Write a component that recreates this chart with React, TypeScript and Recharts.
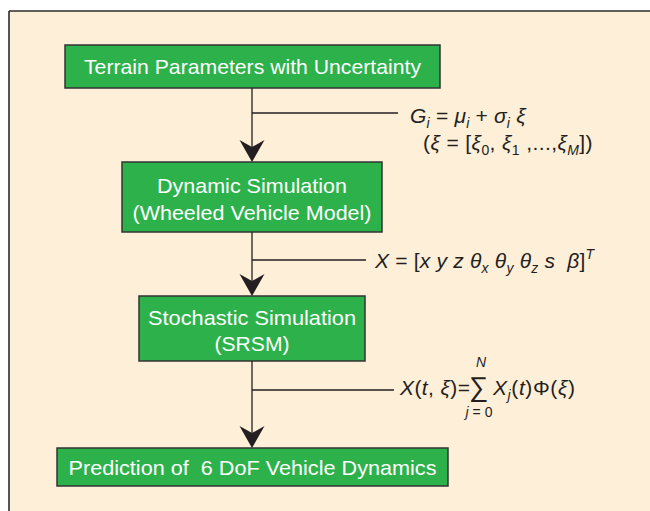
import React from "react";
import {
  ScatterChart,
  Scatter,
  XAxis,
  YAxis,
  ReferenceArea,
  ReferenceLine,
} from "recharts";

// ---------- content ----------
const boxLabels: string[][] = [
  ["Terrain Parameters with Uncertainty"],
  ["Dynamic Simulation", "(Wheeled Vehicle Model)"],
  ["Stochastic Simulation", "(SRSM)"],
  ["Prediction of  6 DoF Vehicle Dynamics"],
];

type Tok = [string, string];
// kinds: i = italic, u = upright, sub = italic subscript, subu = upright subscript, sup = italic superscript, big = large upright, small = small italic
const formula1a: Tok[] = [
  ["G", "i"], ["i", "sub"], [" = ", "u"], ["μ", "i"], ["i", "sub"], [" + ", "u"], ["σ", "i"], ["i", "sub"], [" ξ", "i"],
];
const formula1b: Tok[] = [
  ["(", "u"], ["ξ", "i"], [" = [", "u"], ["ξ", "i"], ["0", "subu"], [", ", "u"], ["ξ", "i"], ["1", "subu"], [" ,...,", "u"], ["ξ", "i"], ["M", "sub"], ["])", "u"],
];
const formula2: Tok[] = [
  ["X", "i"], [" = [", "u"], ["x y z θ", "i"], ["x", "sub"], [" θ", "i"], ["y", "sub"], [" θ", "i"], ["z", "sub"], [" s  β", "i"], ["]", "u"], ["T", "sup"],
];
const formula3a: Tok[] = [["X", "i"], ["(", "u"], ["t", "i"], [", ", "u"], ["ξ", "i"], [")=", "u"]];
const formula3sum: Tok[] = [["∑", "big"]];
const formula3top: Tok[] = [["N", "small"]];
const formula3bot: Tok[] = [["j", "small"], [" = 0", "smallu"]];
const formula3b: Tok[] = [["X", "i"], ["j", "sub"], ["(", "u"], ["t", "i"], [")Φ(", "u"], ["ξ", "i"], [")", "u"]];

// ---------- layout (pixel units of the chart's own scales) ----------
const W = 650;
const H = 511;
const frame = { x: 9, y: 11 };
const boxLayout = [
  { x1: 65, x2: 440, y1: 45, y2: 88, lines: [0], widths: [337] },
  { x1: 122, x2: 382, y1: 162, y2: 232, lines: [-12, 15], widths: [190, 239] },
  { x1: 139, x2: 365, y1: 296, y2: 361, lines: [-11.5, 14.5], widths: [208, 75] },
  { x1: 57, x2: 448, y1: 448, y2: 486, lines: [0], widths: [368] },
];
const spineX = 252;
const branchY = [113, 260, 390];
const branchEnd = [398, 366, 394];

const formulaItems = [
  { x: 410, y: 123, toks: formula1a, anchor: "start", spacing: 0.2 },
  { x: 423, y: 150, toks: formula1b, anchor: "start", spacing: 0.4 },
  { x: 375, y: 268, toks: formula2, anchor: "start", spacing: 0.2 },
  { x: 400, y: 395, toks: formula3a, anchor: "start", spacing: 0.4 },
  { x: 469, y: 396, toks: formula3sum, anchor: "start", spacing: 0 },
  { x: 481, y: 367, toks: formula3top, anchor: "middle", spacing: 0 },
  { x: 479, y: 417, toks: formula3bot, anchor: "middle", spacing: 0 },
  { x: 493, y: 395, toks: formula3b, anchor: "start", spacing: 0.6 },
];

const GREEN = "#2DB24B";
const BEIGE = "#FEEFD9";
const INK = "#231F20";
const FONT = "'Liberation Sans', Arial, Helvetica, sans-serif";

const textItems = boxLabels.flatMap((lines, bi) =>
  lines.map((t, li) => {
    const b = boxLayout[bi];
    const cy = (b.y1 + b.y2) / 2 + b.lines[li];
    return { x: (b.x1 + b.x2) / 2, y: cy, text: t, w: b.widths[li] };
  })
);

const arrowTips = boxLayout.slice(1).map((b) => ({ x: spineX, y: b.y1 }));

function renderTokens(toks: Tok[]) {
  let cur = 0;
  return toks.map(([s, k], i) => {
    const target = k === "sub" || k === "subu" ? 5 : k === "sup" ? -9 : 0;
    const dy = target - cur;
    cur = target;
    const small = k === "sub" || k === "subu" || k === "sup";
    let size = small ? 14 : 21;
    if (k === "big") size = 27;
    if (k === "small" || k === "smallu") size = 14;
    const italic = k === "i" || k === "sub" || k === "sup" || k === "small";
    return (
      <tspan key={i} dy={dy} fontSize={size} fontStyle={italic ? "italic" : "normal"}>
        {s}
      </tspan>
    );
  });
}

const BoxText = (props: any) => {
  const { cx, cy, payload } = props;
  return (
    <text
      x={cx}
      y={cy + 7.5}
      textAnchor="middle"
      fill="#FFFFFF"
      fontFamily={FONT}
      fontSize={21}
      textLength={payload.w}
      lengthAdjust="spacingAndGlyphs"
      style={{ whiteSpace: "pre" }}
    >
      {payload.text}
    </text>
  );
};

const FormulaText = (props: any) => {
  const { cx, cy, payload } = props;
  return (
    <text
      x={cx}
      y={cy}
      textAnchor={payload.anchor}
      fill={INK}
      fontFamily={FONT}
      fontSize={21}
      letterSpacing={payload.spacing}
      style={{ whiteSpace: "pre" }}
    >
      {renderTokens(payload.toks)}
    </text>
  );
};

const ArrowHead = (props: any) => {
  const { cx, cy } = props;
  const d = `M ${cx} ${cy} L ${cx - 12.5} ${cy - 22} L ${cx} ${cy - 15} L ${cx + 12.5} ${cy - 22} Z`;
  return <path d={d} fill={INK} />;
};

export default function App() {
  return (
    <div style={{ position: "absolute", left: 0, top: 0, width: W, height: H, background: "#FFFFFF" }}>
      <ScatterChart width={W} height={H} margin={{ top: 0, right: 0, bottom: 0, left: 0 }}>
        <XAxis type="number" dataKey="x" domain={[0, W]} allowDataOverflow hide />
        <YAxis type="number" dataKey="y" domain={[0, H]} reversed allowDataOverflow hide />

        <ReferenceArea x1={frame.x} x2={W} y1={frame.y} y2={H} fill={BEIGE} fillOpacity={1} stroke="none" ifOverflow="visible" />
        <ReferenceLine segment={[{ x: frame.x, y: frame.y }, { x: W, y: frame.y }]} stroke="#2b2b2b" strokeWidth={1.6} ifOverflow="visible" />
        <ReferenceLine segment={[{ x: frame.x, y: frame.y }, { x: frame.x, y: H }]} stroke="#2b2b2b" strokeWidth={1.6} ifOverflow="visible" />

        {boxLayout.slice(0, -1).map((b, i) => (
          <ReferenceLine
            key={"v" + i}
            segment={[{ x: spineX, y: b.y2 }, { x: spineX, y: boxLayout[i + 1].y1 - 8 }]}
            stroke={INK}
            strokeWidth={1.3}
            ifOverflow="visible"
          />
        ))}
        {branchY.map((y, i) => (
          <ReferenceLine
            key={"h" + i}
            segment={[{ x: spineX, y }, { x: branchEnd[i], y }]}
            stroke={INK}
            strokeWidth={1.3}
            ifOverflow="visible"
          />
        ))}

        {boxLayout.map((b, i) => (
          <ReferenceArea
            key={"b" + i}
            x1={b.x1}
            x2={b.x2}
            y1={b.y1}
            y2={b.y2}
            fill={GREEN}
            fillOpacity={1}
            stroke="#333333"
            strokeWidth={1.5}
            ifOverflow="visible"
          />
        ))}

        <Scatter data={arrowTips} shape={ArrowHead} isAnimationActive={false} />
        <Scatter data={textItems} shape={BoxText} isAnimationActive={false} />
        <Scatter data={formulaItems} shape={FormulaText} isAnimationActive={false} />
      </ScatterChart>
    </div>
  );
}
